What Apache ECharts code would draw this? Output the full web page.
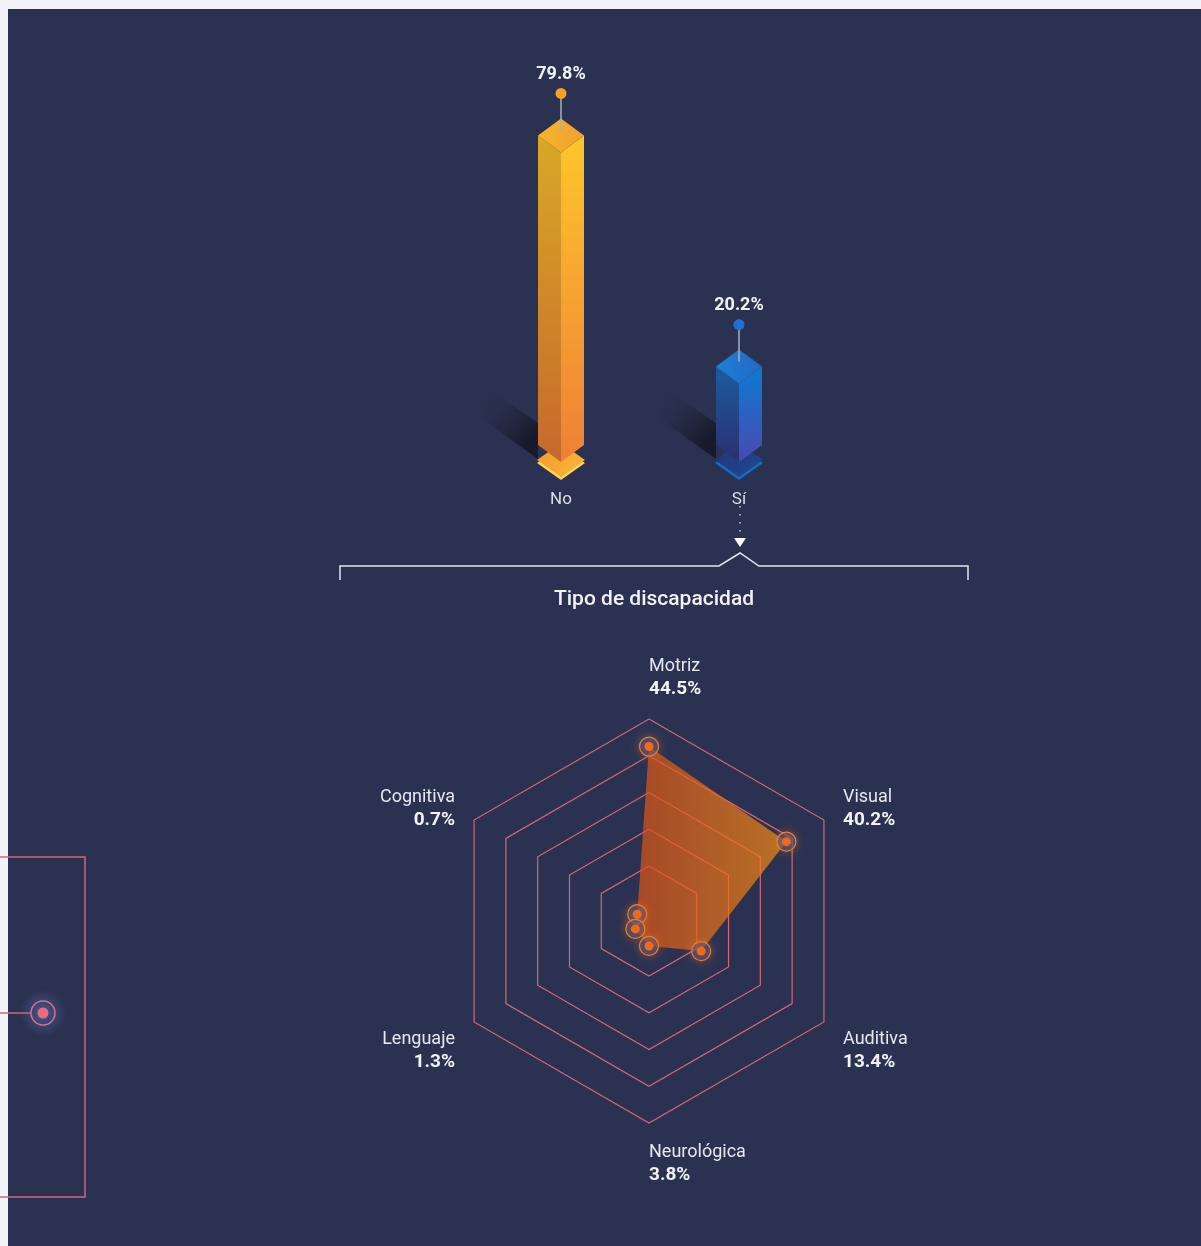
<!DOCTYPE html>
<html>
<head>
<meta charset="utf-8">
<script src="https://cdn.jsdelivr.net/npm/echarts@6/dist/echarts.min.js"></script>
<style>
html, body { margin: 0; padding: 0; background: #f4f3f9; }
#main { width: 1201px; height: 1246px; }
</style>
</head>
<body>
<div id="main"></div>
<script>
// ¿Tiene discapacidad?
var answers = ['No', 'Sí'];
var answerValues = [79.8, 20.2];

// Tipo de discapacidad (radar order, counter-clockwise from the top)
var types = ['Motriz', 'Cognitiva', 'Lenguaje', 'Neurológica', 'Auditiva', 'Visual'];
var typeValues = [44.5, 0.7, 1.3, 3.8, 13.4, 40.2];

var BG = '#2b3251';
var FONT = 'Roboto, "Noto Sans", sans-serif';
var CX = 649, CY = 921, R = 202;

var palettes = [
	{ top: ['#f8b52a', '#eea130'], left: ['#d9a827', '#c6692b'], right: ['#fec62a', '#ee7f37'],
		plate: ['#f39c2f', '#f8b63a'], edge: '#ffd35c', pin: '#f5a125' },
	{ top: ['#1b82d6', '#2766c4'], left: ['#1c5c9f', '#2a2f70'], right: ['#0b7bd2', '#4b49b0'],
		plate: ['#23357a', '#1d4a92'], edge: '#0b6fc2', pin: '#1f6fd4' }
];

function lin(x0, y0, x1, y1, c0, c1) {
	return new echarts.graphic.LinearGradient(x0, y0, x1, y1, [
		{ offset: 0, color: c0 }, { offset: 1, color: c1 }
	]);
}

function renderBar(params, api) {
	var i = params.dataIndex;
	var p = palettes[i];
	var top = api.coord([api.value(0), api.value(1)]);
	var base = api.coord([api.value(0), 0]);
	var x = top[0], yt = top[1], yb = base[1];
	var w = 23, h = 17, L = x - w;
	return {
		type: 'group',
		children: [
			{ type: 'polygon', shape: { points: [[L, yb - 22], [L, yb + 14], [L - 56, yb - 26], [L - 56, yb - 60]] },
				style: { fill: lin(1, 0.6, 0, 0, 'rgba(16,18,30,0.75)', 'rgba(43,50,81,0)') } },
			{ type: 'polygon', shape: { points: [[x - w - 1, yb + 18], [x, yb + 1], [x + w + 1, yb + 18], [x, yb + 35]] },
				style: { fill: p.edge } },
			{ type: 'polygon', shape: { points: [[x - w - 1, yb + 15], [x, yb - 2], [x + w + 1, yb + 15], [x, yb + 32]] },
				style: { fill: lin(0, 0, 1, 1, p.plate[0], p.plate[1]) } },
			{ type: 'polygon', shape: { points: [[x - w, yt], [x, yt + h], [x, yb + h], [x - w, yb]] },
				style: { fill: lin(0, 0, 0, 1, p.left[0], p.left[1]) } },
			{ type: 'polygon', shape: { points: [[x, yt + h], [x + w, yt], [x + w, yb], [x, yb + h]] },
				style: { fill: lin(0, 0, 0, 1, p.right[0], p.right[1]) } },
			{ type: 'polygon', shape: { points: [[x, yt - h], [x + w, yt], [x, yt + h], [x - w, yt]] },
				style: { fill: lin(0, 0, 1, 0, p.top[0], p.top[1]) } },
			{ type: 'line', shape: { x1: x, y1: yt - 42, x2: x, y2: yt - 5 },
				style: { stroke: '#a9aebf', lineWidth: 1.5 } },
			{ type: 'circle', shape: { cx: x, cy: yt - 42, r: 5.5 }, style: { fill: p.pin } },
			{ type: 'text', x: x, y: yt - 61,
				style: { text: api.value(1).toFixed(1) + '%', fill: '#f4f4f8', font: 'bold 18px ' + FONT,
					align: 'center', verticalAlign: 'middle' } }
		]
	};
}

// ring colours: only every second split line from the 3rd one is drawn
var ringColors = [];
for (var k = 0; k <= 11; k++) {
	ringColors.push(k >= 3 && k % 2 === 1 ? '#d8637a' : 'rgba(0,0,0,0)');
}

// radar labels as text, placed around the hexagon
var radarLabels = types.map(function (name, i) {
	var a = (90 + i * 60) * Math.PI / 180;
	var c = Math.cos(a), s = Math.sin(a);
	var el = {
		type: 'text',
		style: {
			text: '{n|' + name + '}\n{v|' + typeValues[i].toFixed(1) + '%}',
			rich: {
				n: { fontSize: 18, fontFamily: FONT, fill: '#e6e7f0', lineHeight: 23 },
				v: { fontSize: 19, fontFamily: FONT, fontWeight: 'bold', fill: '#f4f4f8', lineHeight: 23 }
			}
		}
	};
	if (Math.abs(c) < 0.1) {
		el.x = CX;
		el.y = s > 0 ? CY - 220 : CY + 220;
		el.style.align = 'left';
		el.style.verticalAlign = s > 0 ? 'bottom' : 'top';
	} else {
		el.x = CX + c * 224;
		el.y = CY - s * 224 + (s < 0 ? 18 : 0);
		el.style.align = c > 0 ? 'left' : 'right';
		el.style.verticalAlign = 'middle';
	}
	return el;
});

var graphics = [
	{ type: 'rect', shape: { x: 0, y: 0, width: 1201, height: 9 }, style: { fill: '#f4f3f9' } },
	{ type: 'rect', shape: { x: 0, y: 0, width: 8, height: 1246 }, style: { fill: '#f4f3f9' } },
	// bracket towards the radar
	{ type: 'line', shape: { x1: 740, y1: 506, x2: 740, y2: 533 },
		style: { stroke: '#c9cbd8', lineWidth: 1.5, lineDash: [1.5, 6.5] } },
	{ type: 'polygon', shape: { points: [[734, 538], [746, 538], [740, 547]] }, style: { fill: '#ffffff' } },
	{ type: 'polyline', shape: { points: [[340, 580], [340, 566], [719, 566], [740, 553], [759, 566], [968, 566], [968, 580]] },
		style: { stroke: '#e4e5ee', lineWidth: 1.5, fill: null } },
	{ type: 'text', x: 654, y: 600,
		style: { text: 'Tipo de discapacidad', font: '500 21px ' + FONT, fill: '#f2f2f7',
			align: 'center', verticalAlign: 'middle' } },
	// left side marker
	{ type: 'polyline', shape: { points: [[0, 857], [85, 857], [85, 1197], [0, 1197]] },
		style: { stroke: '#d2667a', lineWidth: 1.5, fill: null } },
	{ type: 'line', shape: { x1: 0, y1: 1013, x2: 31, y2: 1013 }, style: { stroke: '#d2667a', lineWidth: 1.5 } },
	{ type: 'circle', shape: { cx: 43, cy: 1013, r: 23 },
		style: { fill: new echarts.graphic.RadialGradient(0.5, 0.5, 0.5, [
			{ offset: 0, color: 'rgba(95,125,215,0.5)' }, { offset: 1, color: 'rgba(95,125,215,0)' }]) } },
	{ type: 'circle', shape: { cx: 43, cy: 1013, r: 12 }, style: { fill: null, stroke: '#e66c7f', lineWidth: 1.5 } },
	{ type: 'circle', shape: { cx: 43, cy: 1013, r: 5.5 }, style: { fill: '#f06b7e' } }
].concat(radarLabels);

var chart = echarts.init(document.getElementById('main'));
var option = {
	animation: false,
	backgroundColor: BG,
	graphic: graphics,
	grid: { left: 472, top: 57, width: 356, height: 388 },
	xAxis: {
		type: 'category',
		data: answers,
		axisLine: { show: false },
		axisTick: { show: false },
		axisLabel: { color: '#dcdde8', fontSize: 17, fontFamily: FONT, margin: 46 }
	},
	yAxis: { type: 'value', min: 0, max: 100, show: false },
	radar: {
		center: [CX, CY],
		radius: R,
		startAngle: 90,
		splitNumber: 11,
		shape: 'polygon',
		indicator: types.map(function (n) { return { name: n, min: -3, max: 52 }; }),
		axisName: { show: false },
		axisLine: { show: false },
		axisTick: { show: false },
		axisLabel: { show: false },
		splitArea: { show: false },
		splitLine: { lineStyle: { color: ringColors, width: 1.2 } }
	},
	series: [
		{
			type: 'custom',
			renderItem: renderBar,
			encode: { x: 0, y: 1 },
			data: answerValues.map(function (v, i) { return [i, v]; })
		},
		{
			type: 'radar',
			z: 2,
			symbol: 'none',
			lineStyle: { width: 0, opacity: 0 },
			areaStyle: { color: lin(0, 0, 1, 0, 'rgba(214,80,24,0.72)', 'rgba(240,138,22,0.72)'), opacity: 1 },
			data: [{ value: typeValues }]
		},
		{
			type: 'radar',
			z: 3,
			symbol: 'circle',
			symbolSize: 19,
			itemStyle: { color: 'rgba(62,78,145,0.55)', borderColor: '#f07f22', borderWidth: 1.2,
				shadowBlur: 8, shadowColor: 'rgba(240,120,40,0.6)' },
			lineStyle: { width: 0, opacity: 0 },
			data: [{ value: typeValues }]
		},
		{
			type: 'radar',
			z: 4,
			symbol: 'circle',
			symbolSize: 9,
			itemStyle: { color: '#f46a12' },
			lineStyle: { width: 0, opacity: 0 },
			data: [{ value: typeValues }]
		}
	]
};
chart.setOption(option);
</script>
</body>
</html>
